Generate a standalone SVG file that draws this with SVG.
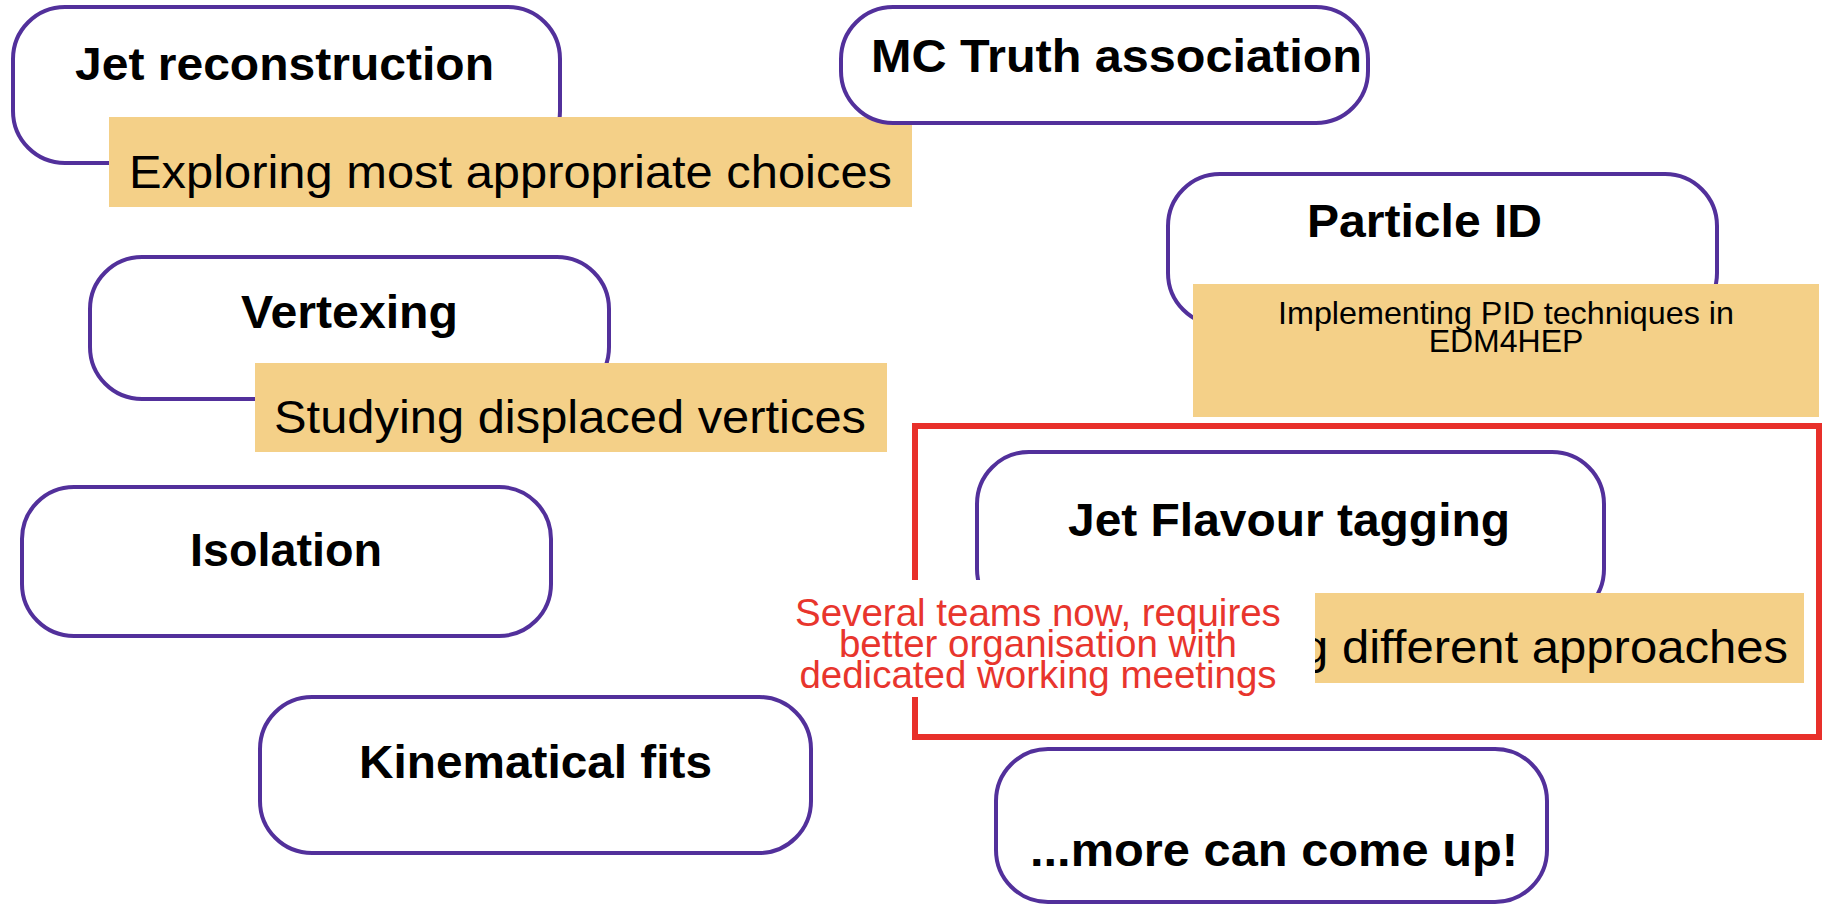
<svg xmlns="http://www.w3.org/2000/svg" width="1825" height="905" viewBox="0 0 1825 905">
  <style>
    .topic { fill: #ffffff; stroke: #52309b; stroke-width: 4; }
    .note { fill: #f4d088; }
    .title { font-family: "Liberation Sans", Arial, Helvetica, sans-serif; font-weight: bold; font-size: 46px; fill: #000000; }
    .body { font-family: "Liberation Sans", Arial, Helvetica, sans-serif; font-size: 47px; fill: #000000; }
    .small { font-family: "Liberation Sans", Arial, Helvetica, sans-serif; font-size: 32px; fill: #000000; }
    .remark { font-family: "Liberation Sans", Arial, Helvetica, sans-serif; font-size: 38.5px; fill: #e8352d; }
    .frame { fill: none; stroke: #e8302a; stroke-width: 6; }
  </style>

  <rect x="0" y="0" width="1825" height="905" fill="#ffffff"/>

  <!-- no connectors between the topics -->
  <g id="connectors"/>

  <g id="jet-reconstruction">
    <rect class="topic" x="13" y="7" width="547" height="156" rx="52"/>
    <text class="title" x="75" y="80" textLength="419" lengthAdjust="spacingAndGlyphs">Jet reconstruction</text>
    <rect class="note" x="109" y="117" width="803" height="90"/>
    <text class="body" x="129" y="188" textLength="763" lengthAdjust="spacingAndGlyphs">Exploring most appropriate choices</text>
  </g>

  <g id="mc-truth">
    <rect class="topic" x="841" y="7" width="527" height="116" rx="52"/>
    <text class="title" x="871" y="72" textLength="491" lengthAdjust="spacingAndGlyphs">MC Truth association</text>
  </g>

  <g id="particle-id">
    <rect class="topic" x="1168" y="174" width="549" height="151" rx="52"/>
    <text class="title" x="1307" y="237" textLength="235" lengthAdjust="spacingAndGlyphs">Particle ID</text>
    <rect class="note" x="1193" y="284" width="626" height="133"/>
    <text class="small" x="1506" y="324" text-anchor="middle" textLength="456" lengthAdjust="spacingAndGlyphs">Implementing PID techniques in</text>
    <text class="small" x="1506" y="352" text-anchor="middle">EDM4HEP</text>
  </g>

  <g id="vertexing">
    <rect class="topic" x="90" y="257" width="519" height="142" rx="52"/>
    <text class="title" x="241" y="328" textLength="217" lengthAdjust="spacingAndGlyphs">Vertexing</text>
    <rect class="note" x="255" y="363" width="632" height="89"/>
    <text class="body" x="274" y="433" textLength="592" lengthAdjust="spacingAndGlyphs">Studying displaced vertices</text>
  </g>

  <g id="isolation">
    <rect class="topic" x="22" y="487" width="529" height="149" rx="52"/>
    <text class="title" x="190" y="566" textLength="192" lengthAdjust="spacingAndGlyphs">Isolation</text>
  </g>

  <g id="kinematical-fits">
    <rect class="topic" x="260" y="697" width="551" height="156" rx="52"/>
    <text class="title" x="359" y="778" textLength="353" lengthAdjust="spacingAndGlyphs">Kinematical fits</text>
  </g>

  <g id="jet-flavour-tagging">
    <rect class="frame" x="915" y="426" width="904" height="311"/>
    <rect class="topic" x="977" y="452" width="627" height="169" rx="52"/>
    <text class="title" x="1068" y="536" textLength="442" lengthAdjust="spacingAndGlyphs">Jet Flavour tagging</text>
    <rect class="note" x="1315" y="593" width="489" height="90"/>
    <text class="body" x="1301" y="663" textLength="487" lengthAdjust="spacingAndGlyphs">g different approaches</text>
    <rect x="785" y="580" width="530" height="117" fill="#ffffff"/>
    <text class="remark" x="1038" y="626" text-anchor="middle">Several teams now, requires</text>
    <text class="remark" x="1038" y="657" text-anchor="middle">better organisation with</text>
    <text class="remark" x="1038" y="688" text-anchor="middle">dedicated working meetings</text>
  </g>

  <g id="more-topics">
    <rect class="topic" x="996" y="749" width="551" height="153" rx="52"/>
    <text class="title" x="1030" y="866" textLength="488" lengthAdjust="spacingAndGlyphs">...more can come up!</text>
  </g>
</svg>
